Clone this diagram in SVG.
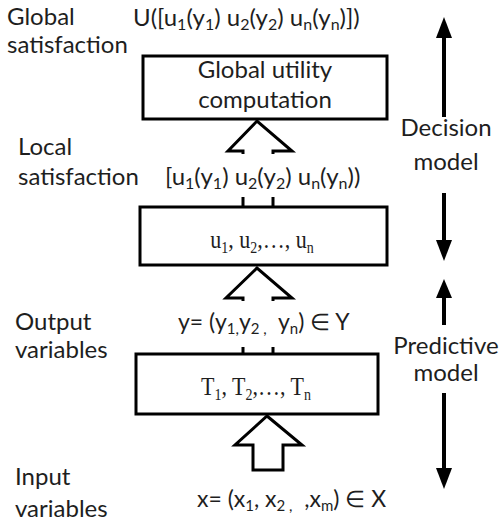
<svg xmlns="http://www.w3.org/2000/svg" width="502" height="524" viewBox="0 0 502 524">
<style>
.lbl{font-family:Lato,"Liberation Sans",sans-serif;font-size:24px;fill:#1e1e1e}
.eq{font-size:23px}
.ser{font-family:"Liberation Serif","Times New Roman",serif;font-size:22px;fill:#1e1e1e}
.box{fill:#fff;stroke:#000;stroke-width:3}
.hol{fill:#fff;stroke:#000;stroke-width:3;stroke-linejoin:miter}
.seg{fill:none;stroke:#000;stroke-width:3}
.bar{fill:none;stroke:#000;stroke-width:4}
.head{fill:#000}
</style>
<rect width="502" height="524" fill="#fff"/>

<g id="connectors">
<path class="hol" d="M243,154 L243,151 L228,151 L257,121 L292,151 L273,151 L273,154"/>
<path class="seg" d="M243,197 L243,207 M273,197 L273,207"/>
<path class="hol" d="M243,301 L243,298 L226,298 L257,268 L292,298 L273,298 L273,301"/>
<path class="seg" d="M243,347 L243,354 M273,347 L273,354"/>
<path class="hol" d="M267,416 L302,445 L283,445 L283,470 L253,470 L253,445 L235,445 Z"/>
<line class="bar" x1="444" y1="117" x2="444" y2="36"/>
<polygon class="head" points="444,17 452,38 436,38"/>
<line class="bar" x1="444" y1="193" x2="444" y2="242"/>
<polygon class="head" points="444,261 452,240 436,240"/>
<line class="bar" x1="444" y1="325" x2="444" y2="296"/>
<polygon class="head" points="444,279 452,298 436,298"/>
<line class="bar" x1="444" y1="393" x2="444" y2="470"/>
<polygon class="head" points="444,489 452,468 436,468"/>
</g>

<g id="node-global">
<rect class="box" x="143" y="56" width="244" height="63"/>
<text class="lbl" x="265" y="78" text-anchor="middle">Global utility</text>
<text class="lbl" x="265" y="108" text-anchor="middle">computation</text>
</g>

<g id="node-utilities">
<rect class="box" x="140" y="207" width="247" height="58"/>
<text class="ser" transform="translate(262,248) scale(1,1.18)" x="0" y="0" text-anchor="middle">u<tspan font-size="14" dy="4">1</tspan><tspan dy="-4">, u</tspan><tspan font-size="14" dy="4">2</tspan><tspan dy="-4">,…, u</tspan><tspan font-size="14" dy="4">n</tspan></text>
</g>

<g id="node-predictors">
<rect class="box" x="136" y="354" width="242" height="60"/>
<text class="ser" transform="translate(256,395) scale(1,1.18)" x="0" y="0" text-anchor="middle">T<tspan font-size="14" dy="4">1</tspan><tspan dy="-4">, T</tspan><tspan font-size="14" dy="4">2</tspan><tspan dy="-4">,…, T</tspan><tspan font-size="14" dy="4">n</tspan></text>
</g>

<g id="labels-left">
<text class="lbl" x="7" y="25">Global</text>
<text class="lbl" x="7" y="53">satisfaction</text>
<text class="lbl" x="18" y="155">Local</text>
<text class="lbl" x="18" y="185">satisfaction</text>
<text class="lbl" x="15" y="330">Output</text>
<text class="lbl" x="15" y="358">variables</text>
<text class="lbl" x="15" y="485">Input</text>
<text class="lbl" x="15" y="517">variables</text>
</g>

<g id="formulas">
<text class="lbl" x="133" y="26">U([u<tspan font-size="16" dy="4">1</tspan><tspan dy="-4">(y</tspan><tspan font-size="16" dy="4">1</tspan><tspan dy="-4">) u</tspan><tspan font-size="16" dy="4">2</tspan><tspan dy="-4">(y</tspan><tspan font-size="16" dy="4">2</tspan><tspan dy="-4">) u</tspan><tspan font-size="16" dy="4">n</tspan><tspan dy="-4">(y</tspan><tspan font-size="16" dy="4">n</tspan><tspan dy="-4">)])</tspan></text>
<text class="lbl" x="165" y="185">[u<tspan font-size="16" dy="4">1</tspan><tspan dy="-4">(y</tspan><tspan font-size="16" dy="4">1</tspan><tspan dy="-4">) u</tspan><tspan font-size="16" dy="4">2</tspan><tspan dy="-4">(y</tspan><tspan font-size="16" dy="4">2</tspan><tspan dy="-4">) u</tspan><tspan font-size="16" dy="4">n</tspan><tspan dy="-4">(y</tspan><tspan font-size="16" dy="4">n</tspan><tspan dy="-4">))</tspan></text>
<text class="lbl eq" x="178" y="330" xml:space="preserve">y= (y<tspan font-size="15" dy="4">1,</tspan><tspan dy="-4">y</tspan><tspan font-size="15" dy="4">2 ,</tspan><tspan dy="-4">  y</tspan><tspan font-size="15" dy="4">n</tspan><tspan dy="-4">) ∈ Y</tspan></text>
<text class="lbl eq" x="197" y="507" xml:space="preserve">x= (x<tspan font-size="15" dy="4">1</tspan><tspan dy="-4">, x</tspan><tspan font-size="15" dy="4">2 ,</tspan><tspan dy="-4">  ,x</tspan><tspan font-size="15" dy="4">m</tspan><tspan dy="-4">) ∈ X</tspan></text>
</g>

<g id="labels-right">
<text class="lbl" x="446" y="136" text-anchor="middle">Decision</text>
<text class="lbl" x="446" y="170" text-anchor="middle">model</text>
<text class="lbl" x="446" y="354" text-anchor="middle">Predictive</text>
<text class="lbl" x="446" y="381" text-anchor="middle">model</text>
</g>
</svg>
